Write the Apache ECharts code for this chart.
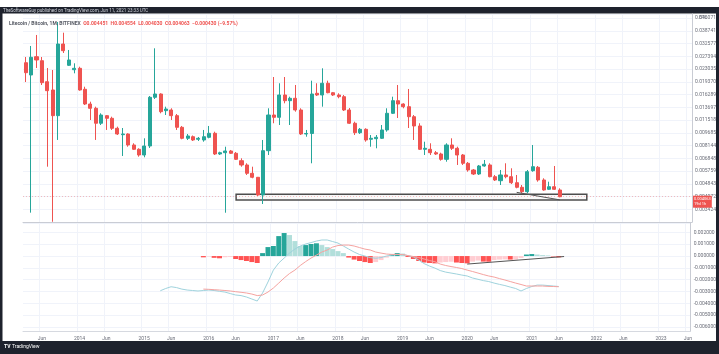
<!DOCTYPE html>
<html>
<head>
<meta charset="utf-8">
<script src="https://cdn.jsdelivr.net/npm/echarts@6/dist/echarts.min.js"></script>
<style>
html,body{margin:0;padding:0;background:#fff;}
#chart{width:719px;height:354px;}
</style>
</head>
<body>
<div id="chart"></div>
<script>
function Appendzero(obj){
	if(obj<10) return "0"+obj;
	return ""+obj;
};
// monthly candles from 2013-03, [open, close, low, high]
var candles = [
	[.02513,.02194,.01933,.02716],[.02127,.02705,.00327,.03155],[.02727,.02608,.02339,.03664],[.02583,.01915,.01856,.02716],
	[.01941,.01718,.00611,.02339],[.01734,.01223,.00289,.02276],[.01223,.03241,.00879,.04372],[.03241,.02959,.02868,.0378],
	[.02426,.02608,.02403,.02988],[.02285,.02329,.02176,.02493],[.02329,.01734,.01718,.0238],[.01751,.01433,.01414,.01813],
	[.01433,.01352,.01153,.01479],[.01352,.01103,.00879,.01382],[.01103,.01234,.01077,.01263],[.01223,.0118,.01007,.01234],
	[.0118,.0103,.01007,.01206],[.0103,.009532,.009404,.01053],[.009441,.009532,.007067,.01034],[.009532,.008208,.00802,.009623],
	[.008208,.007741,.007669,.0084],[.007741,.007164,.007,.007848],[.007164,.008097,.006943,.00899],[.008097,.0157,.00788,.01598],
	[.0157,.01642,.01534,.03057],[.01642,.01291,.01263,.01658],[.01309,.01339,.01234,.01382],[.01321,.01223,.01153,.01352],
	[.01223,.01044,.01007,.01251],[.01044,.00899,.008869,.01063],[.00899,.009276,.008786,.009532],[.009187,.008786,.008667,.00934],
	[.008869,.00899,.008667,.009151],[.008786,.009187,.008584,.01007],[.009113,.009623,.00899,.01063],[.009623,.007262,.007164,.009834],
	[.007262,.007391,.007164,.007492],[.007391,.007565,.003268,.00802],[.007565,.007332,.007262,.007669],[.007332,.006756,.006693,.007463],
	[.006629,.006254,.00611,.006849],[.006254,.005585,.005459,.006399],[.005585,.00529,.005219,.00611],[.00529,.004158,.004102,.005312],
	[.004158,.007596,.003679,.008786],[.007596,.01234,.007164,.01352],[.01234,.01196,.01103,.02069],[.01196,.0162,.01077,.019],
	[.0162,.01499,.01447,.02069],[.01499,.01549,.01077,.01583],[.01549,.01321,.01291,.01856],[.01321,.009532,.009404,.01352],
	[.009532,.0096,.009187,.01007],[.0096,.01642,.006399,.01968],[.01658,.0162,.01598,.019],[.0162,.019,.01382,.02329],
	[.019,.01671,.01658,.01968],[.01671,.0162,.01598,.01688],[.0162,.01583,.01549,.01658],[.01583,.01321,.01303,.0162],
	[.01321,.01103,.01092,.01357],[.01103,.009702,.009404,.01127],[.009702,.01016,.009532,.01034],[.01016,.008786,.008584,.0103],
	[.008869,.00899,.00802,.009404],[.008941,.009113,.007848,.009404],[.00899,.01007,.008905,.01077],[.01007,.01263,.009834,.01352],
	[.01263,.01499,.01251,.01583],[.01499,.01433,.01185,.01856],[.01433,.01382,.01352,.01447],[.01382,.01206,.01034,.01758],
	[.01206,.01063,.008786,.01234],[.01063,.007741,.007669,.01103],[.007741,.007848,.007164,.008584],[.007741,.007391,.007164,.0084],
	[.007391,.007262,.007164,.007565],[.007262,.006756,.006629,.007391],[.006756,.008208,.006539,.0084],[.008208,.007848,.007669,.00899],
	[.007848,.007164,.006254,.00802],[.007164,.006399,.006254,.007262],[.006399,.005842,.005707,.006513],[.005842,.005532,.005459,.005922],
	[.005532,.006169,.005459,.006254],[.006169,.006314,.00611,.006693],[.006254,.005333,.00529,.006399],[.005333,.005099,.00503,.005459],
	[.005051,.005459,.004763,.005842],[.005459,.005333,.005219,.006399],[.005333,.004915,.004829,.005979],[.004915,.004617,.004554,.005459],
	[.004617,.004349,.004255,.004763],[.004349,.005707,.004255,.005842],[.005786,.00611,.005707,.008208],[.006061,.005099,.004982,.006169],
	[.005099,.004451,.004408,.005219],[.004493,.004654,.004451,.004982],[.004654,.004493,.004451,.006169],[.004451,.004063,.00403,.004554]
];
var lastPrice = 0.004063;
// MACD line starts at candle 25, signal and histogram at candle 33
var macdStart = 25;
var macdLine = [-0.00294,-0.00275,-0.0026,-0.00267,-0.0028,-0.00288,-0.00292,-0.00296,-0.00292,-0.00288,
	-0.00292,-0.00299,-0.00305,-0.00318,-0.0033,-0.00335,-0.00347,-0.00364,-0.00381,-0.00313,
	-0.0022,-0.00119,-0.00059,-0.00017,0.00025,0.00059,0.00085,0.00102,0.00114,0.00127,
	0.00136,0.00136,0.00123,0.0011,0.00085,0.00059,0.00034,0.00013,0,-0.00013,
	-0.00019,-0.00013,0,0.00008,0.00013,0.00013,0.00004,-0.00008,-0.00034,-0.00064,
	-0.00085,-0.00102,-0.00123,-0.00136,-0.00144,-0.00152,-0.00161,-0.00169,-0.00186,-0.00197,
	-0.00208,-0.00216,-0.00229,-0.0024,-0.0025,-0.00263,-0.00275,-0.00296,-0.00275,-0.00258,
	-0.00246,-0.00246,-0.0025,-0.00254,-0.00258];
var signalStart = 33;
var signalLine = [-0.0028,-0.00282,-0.00285,-0.00288,-0.00292,-0.00296,-0.00302,-0.00307,-0.00313,-0.00322,
	-0.00335,-0.0033,-0.00305,-0.00271,-0.00229,-0.00186,-0.00148,-0.00119,-0.0008,-0.00047,
	-0.00017,0.00008,0.00034,0.00051,0.00076,0.00089,0.00093,0.00093,0.00085,0.00072,
	0.00059,0.00051,0.00034,0.00025,0.00017,0.00014,0.00014,0.00013,0.00004,-0.00004,
	-0.00013,-0.00025,-0.00038,-0.00048,-0.00068,-0.0008,-0.00089,-0.00097,-0.00106,-0.00119,
	-0.00131,-0.00144,-0.00157,-0.00169,-0.00178,-0.00191,-0.00203,-0.00216,-0.00229,-0.00241,
	-0.00254,-0.00254,-0.00254,-0.00254,-0.00257,-0.00258,-0.0026];
var histValues = [-0.00011,-0.00004,-0.00015,-0.00019,-0.0001,-0.00007,-0.00025,-0.00034,-0.00042,-0.00051,
	-0.00059,0.00025,0.00076,0.00085,0.00169,0.00195,0.00178,0.00127,0.00085,0.00093,
	0.00102,0.00108,0.00093,0.00076,0.00059,0.00042,0.00025,-0.00013,-0.0003,-0.00042,
	-0.00051,-0.00059,-0.00051,-0.00034,-0.00013,0.00013,0.00025,0.00021,-0.00008,-0.00025,
	-0.00042,-0.00055,-0.00059,-0.00062,-0.00055,-0.00051,-0.00048,-0.00055,-0.00059,-0.00062,
	-0.00047,-0.00038,-0.00047,-0.00048,-0.00034,-0.0003,-0.00028,-0.0003,-0.0003,-0.00017,
	0.00013,0.00017,0.00013,0.00008,0.00005,-0.00004,-0.00011];

var dates = [];
for(var i=0;i<124;i++){
	var m = 2+i;
	dates.push((2013+Math.floor(m/12))+'-'+Appendzero(m%12+1));
}
function isLabelMonth(idx, val){
	var mm = dates[idx].slice(5);
	return mm=='01' || mm=='06';
}
function pad(n, arr){
	var out = [];
	for(var i=0;i<n;i++) out.push('-');
	return out.concat(arr);
}
var histData = pad(signalStart, []);
for(var j=0;j<histValues.length;j++){
	var v = histValues[j], p = j>0 ? histValues[j-1] : 0;
	var c = v>=0 ? (v>=p ? '#26a69a' : '#b2dfdb') : (v<p ? '#ff5252' : '#ffcdd2');
	histData.push({value:v, itemStyle:{color:c}});
}

var fontFam = 'Roboto';
var axisTxt = {fontSize:5, color:'#6a6d78', fontFamily:fontFam};
var gridLine = {color:'#f0f3fa', width:1};

var chart = echarts.init(document.getElementById('chart'));
var option = {
	backgroundColor:'#ffffff',
	animation:false,
	title:{
		left:4, top:16,
		text:'{n|Litecoin / Bitcoin, 1M, BITFINEX}  {v|O0.004451  H0.004554  L0.004030  C0.004063  \u22120.000430 (\u22129.57%)}',
		textStyle:{fontSize:5, fontFamily:fontFam, rich:{
			n:{fontSize:5, color:'#555963', fontFamily:fontFam},
			v:{fontSize:5, color:'#ef5350', fontFamily:fontFam}
		}}
	},
	grid:[
		{left:23, right:22.4, top:14, bottom:132},
		{left:23, right:22.4, top:223, bottom:23}
	],
	xAxis:[
		{type:'category', gridIndex:0, data:dates, boundaryGap:true,
			axisLine:{show:true, onZero:false, lineStyle:{color:'#c9ccd4'}}, axisTick:{show:false}, axisLabel:{show:false},
			splitLine:{show:true, interval:isLabelMonth, lineStyle:gridLine}},
		{type:'category', gridIndex:1, data:dates, boundaryGap:true,
			axisLine:{show:true, onZero:false, lineStyle:{color:'#d6d9e0'}}, axisTick:{show:false},
			axisLabel:{show:true, interval:isLabelMonth, margin:5, fontSize:5, color:'#6a6d78', fontFamily:fontFam,
				formatter:function(val){ return val.slice(5)=='01' ? val.slice(0,4) : 'Jun'; }},
			splitLine:{show:true, interval:isLabelMonth, lineStyle:gridLine}}
	],
	yAxis:[
		{type:'log', gridIndex:0, logBase:Math.pow(2,0.25), interval:1, min:0.00288, max:0.04874, position:'right',
			axisLine:{show:true, lineStyle:{color:'#c9ccd4'}}, axisTick:{show:false},
			axisLabel:Object.assign({margin:3, showMinLabel:false, showMaxLabel:false,
				formatter:function(v){ return v.toFixed(6); }}, axisTxt),
			splitLine:{show:true, lineStyle:gridLine}},
		{type:'value', gridIndex:1, min:-0.00635, max:0.0028, splitNumber:9, position:'right',
			axisLine:{show:true, lineStyle:{color:'#c9ccd4'}}, axisTick:{show:false},
			axisLabel:Object.assign({margin:3, showMinLabel:false, showMaxLabel:false,
				formatter:function(v){ return v.toFixed(6); }}, axisTxt),
			splitLine:{show:true, lineStyle:gridLine}}
	],
	series:[
		{
			type:'candlestick', xAxisIndex:0, yAxisIndex:0, data:candles, barWidth:'66%', clip:false,
			itemStyle:{color:'#26a69a', color0:'#ef5350', borderColor:'#26a69a', borderColor0:'#ef5350', borderWidth:1},
			markLine:{
				symbol:'none', silent:true, animation:false, precision:6,
				data:[
					{yAxis:lastPrice, lineStyle:{color:'rgba(239,83,80,0.35)', type:[1,2], width:1},
						label:{show:true, position:'end', distance:1, offset:[0,5], formatter:'0.004063\n19d 1h',
							backgroundColor:'#ef5350', color:'#ffffff', fontSize:4, fontFamily:fontFam, padding:[1,1], lineHeight:5}},
					[{coord:[91,0.00431], lineStyle:{color:'#555', type:'solid', width:1}, label:{show:false}},
					 {coord:[99,0.00389]}]
				]
			},
			markArea:{
				silent:true,
				data:[[{xAxis:39, yAxis:0.0042, itemStyle:{color:'rgba(248,248,248,0.85)', borderColor:'#4d4d4d', borderWidth:1.5}},
					{xAxis:104, yAxis:0.00388}]]
			}
		},
		{
			type:'bar', xAxisIndex:1, yAxisIndex:1, data:histData, barCategoryGap:'8%',
			markLine:{
				symbol:'none', silent:true, animation:false, label:{show:false}, precision:6,
				lineStyle:{color:'#555', type:'solid', width:1},
				data:[[{coord:[82,-0.00068]},{coord:[100,-0.00004]}]]
			}
		},
		{type:'line', xAxisIndex:1, yAxisIndex:1, data:pad(macdStart, macdLine), showSymbol:false,
			lineStyle:{color:'#9fd3dd', width:1}},
		{type:'line', xAxisIndex:1, yAxisIndex:1, data:pad(signalStart, signalLine), showSymbol:false,
			lineStyle:{color:'#f5a3a0', width:1}}
	],
	graphic:[
		{type:'rect', shape:{x:0, y:7, width:719, height:6.5}, style:{fill:'#1e222d'}},
		{type:'text', left:3, top:8, style:{text:'TheSoftwareGuy published on TradingView.com, Jun 11, 2021 23:33 UTC', fill:'#d1d4dc', fontSize:4.5, fontFamily:fontFam}},
		{type:'rect', shape:{x:0, y:13, width:2.5, height:328}, style:{fill:'#1e222d'}},
		{type:'rect', shape:{x:716, y:13, width:3, height:328}, style:{fill:'#1e222d'}},
		{type:'rect', shape:{x:0, y:341, width:719, height:13}, style:{fill:'#1e222d'}},
		{type:'text', left:4, top:344, style:{text:'TV', fill:'#ffffff', fontSize:5, fontWeight:'bold', fontFamily:fontFam}},
		{type:'text', left:12, top:344, style:{text:'TradingView', fill:'#ffffff', fontSize:5, fontFamily:fontFam}},
		{type:'text', left:699, top:15, style:{text:'BTC', fill:'#787b86', fontSize:4.5, fontFamily:fontFam}}
	]
};
chart.setOption(option);
</script>
</body>
</html>
